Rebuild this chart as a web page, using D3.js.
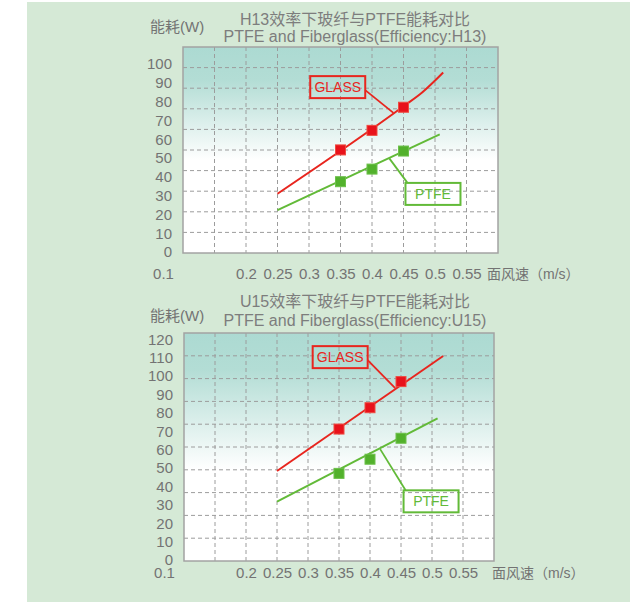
<!DOCTYPE html>
<html>
<head>
<meta charset="utf-8">
<script src="https://cdn.jsdelivr.net/npm/d3@7/dist/d3.min.js"></script>
<style>
  body { margin: 0; background: #fff; }
  svg text { font-family: "Liberation Sans", "Noto Sans CJK SC", sans-serif; }
</style>
</head>
<body>
<div id="chart"></div>
<script>
// tick labels for the wind speed axis (both panels)
var speedTicks = [0.1, 0.2, 0.25, 0.3, 0.35, 0.4, 0.45, 0.5, 0.55];
var markerSpeeds = [0.35, 0.4, 0.45];

// H13 panel
var h13Ticks = [0, 10, 20, 30, 40, 50, 60, 70, 80, 90, 100];
var h13GlassLineX = [0.25, 0.45, 0.48, 0.513];
var h13GlassLineY = [31, 77.5, 85, 95.5];
var h13PtfeLineX = [0.25, 0.5075];
var h13PtfeLineY = [22.3, 62.6];
var h13GlassMarks = [54.3, 64.7, 77];
var h13PtfeMarks = [37.4, 44.1, 53.7];

// U15 panel
var u15Ticks = [0, 10, 20, 30, 40, 50, 60, 70, 80, 90, 100, 110, 120];
var u15GlassLineX = [0.25, 0.518];
var u15GlassLineY = [48.4, 110.9];
var u15PtfeLineX = [0.25, 0.509];
var u15PtfeLineY = [31.7, 77];
var u15GlassMarks = [71.2, 82.8, 97];
var u15PtfeMarks = [47.1, 54.8, 66.2];

var width = 630, height = 602;
var red = "#e8251e", green = "#62ba38";
var textGrey = "#737373";

var svg = d3.select("#chart").append("svg")
  .attr("width", width)
  .attr("height", height);

// pale green card behind both charts
svg.append("rect")
  .attr("x", 27).attr("y", 2)
  .attr("width", width - 27).attr("height", height - 2)
  .attr("fill", "#d5e9d6");

var defs = svg.append("defs");

function zip(xs, ys) {
  return xs.map(function(x, i) { return [x, ys[i]]; });
}

function drawPanel(p) {
  var x = d3.scaleLinear().domain([0.1, 0.6]).range([p.left, p.right]);
  // the printed value labels don't sit on the grid lines, so the value scale is its own
  var y = d3.scaleLinear().domain([0, p.yMax]).range([p.yZero, p.yTopPx]);
  var grid = d3.scaleLinear().domain([0, 10]).range([p.bottom, p.top]);

  var g = svg.append("g");

  var grad = defs.append("linearGradient")
    .attr("id", p.id + "-bg")
    .attr("x1", 0).attr("y1", 0).attr("x2", 0).attr("y2", 1);
  grad.append("stop").attr("offset", 0).attr("stop-color", "#acdad2");
  grad.append("stop").attr("offset", 0.16).attr("stop-color", "#b3ddd5");
  grad.append("stop").attr("offset", p.whiteAt).attr("stop-color", "#ffffff");
  grad.append("stop").attr("offset", 1).attr("stop-color", "#ffffff");

  g.append("rect")
    .attr("x", p.left).attr("y", p.top)
    .attr("width", p.right - p.left).attr("height", p.bottom - p.top)
    .attr("fill", "url(#" + p.id + "-bg)");

  // dashed grid
  g.selectAll(".hgrid")
    .data(d3.range(1, 10))
    .enter().append("line")
    .attr("x1", p.left).attr("x2", p.right)
    .attr("y1", function(d) { return grid(d); })
    .attr("y2", function(d) { return grid(d); })
    .attr("stroke", "#9c9c9c")
    .attr("stroke-dasharray", "4,3");

  g.selectAll(".vgrid")
    .data(d3.range(3, 12).map(function(d) { return d * 0.05; }))
    .enter().append("line")
    .attr("x1", function(d) { return x(d); })
    .attr("x2", function(d) { return x(d); })
    .attr("y1", p.top).attr("y2", p.bottom)
    .attr("stroke", "#9c9c9c")
    .attr("stroke-dasharray", "4,3");

  g.append("rect")
    .attr("x", p.left).attr("y", p.top)
    .attr("width", p.right - p.left).attr("height", p.bottom - p.top)
    .attr("fill", "none")
    .attr("stroke", "#a3a3a3")
    .attr("stroke-width", 1.5);

  // axes
  var yAxisG = g.append("g")
    .attr("transform", "translate(" + p.left + ",0)")
    .call(d3.axisLeft(y).tickValues(p.ticks).tickSize(0).tickPadding(11));
  yAxisG.select(".domain").remove();
  yAxisG.selectAll("text")
    .attr("fill", textGrey)
    .style("font-size", "15px");

  var xAxisG = g.append("g")
    .attr("transform", "translate(0," + p.bottom + ")")
    .call(d3.axisBottom(x).tickValues(speedTicks).tickSize(0)
      .tickPadding(p.xPad).tickFormat(function(d) { return String(d); }));
  xAxisG.select(".domain").remove();
  xAxisG.selectAll("text")
    .attr("fill", textGrey)
    .style("font-size", "15px")
    .attr("dx", function(d) { return d === 0.1 ? -20 : 0; });

  g.append("text")
    .attr("x", p.unitX).attr("y", p.bottom + p.xPad + 11)
    .attr("fill", textGrey)
    .style("font-size", "14px")
    .text("面风速（m/s）");

  g.append("text")
    .attr("x", 150).attr("y", p.yLabelY)
    .attr("fill", textGrey)
    .style("font-size", "15px")
    .text("能耗(W)");

  g.append("text")
    .attr("x", 355).attr("y", p.title1Y)
    .attr("text-anchor", "middle")
    .attr("fill", "#7d7d7d")
    .style("font-size", "16px")
    .text(p.title);
  g.append("text")
    .attr("x", 355).attr("y", p.title2Y)
    .attr("text-anchor", "middle")
    .attr("fill", "#7d7d7d")
    .style("font-size", "16px")
    .text(p.subtitle);

  // series lines
  var line = d3.line()
    .x(function(d) { return x(d[0]); })
    .y(function(d) { return y(d[1]); })
    .curve(d3.curveMonotoneX);

  g.append("path")
    .attr("d", line(p.glassLine))
    .attr("fill", "none")
    .attr("stroke", red)
    .attr("stroke-width", 2);
  g.append("path")
    .attr("d", line(p.ptfeLine))
    .attr("fill", "none")
    .attr("stroke", green)
    .attr("stroke-width", 2);

  // annotation boxes with leader lines
  [[p.glassNote, red], [p.ptfeNote, green]].forEach(function(pair) {
    var n = pair[0], c = pair[1];
    var cx = x(n.x), cy = y(n.y), w = 55, h = 22;
    var sx, sy;
    if (n.from === "right") { sx = cx + w / 2; sy = cy + 3; }
    else { sx = cx - w / 2 + 2; sy = cy - h / 2; }
    g.append("line")
      .attr("x1", sx).attr("y1", sy)
      .attr("x2", x(n.tx)).attr("y2", y(n.ty))
      .attr("stroke", c)
      .attr("stroke-width", 1.8);
    g.append("rect")
      .attr("x", cx - w / 2).attr("y", cy - h / 2)
      .attr("width", w).attr("height", h)
      .attr("fill", "none")
      .attr("stroke", c)
      .attr("stroke-width", 2);
    g.append("text")
      .attr("x", cx).attr("y", cy + 5)
      .attr("text-anchor", "middle")
      .attr("fill", c)
      .style("font-size", "14px")
      .text(n.text);
  });

  // square markers
  g.selectAll(".glassMark")
    .data(zip(markerSpeeds, p.glassMarks))
    .enter().append("rect")
    .attr("x", function(d) { return x(d[0]) - 5; })
    .attr("y", function(d) { return y(d[1]) - 5; })
    .attr("width", 10).attr("height", 10)
    .attr("fill", "#e8121b")
    .attr("stroke", "#ef4a40")
    .attr("stroke-width", 1);

  g.selectAll(".ptfeMark")
    .data(zip(markerSpeeds, p.ptfeMarks))
    .enter().append("rect")
    .attr("x", function(d) { return x(d[0]) - 5; })
    .attr("y", function(d) { return y(d[1]) - 5; })
    .attr("width", 10).attr("height", 10)
    .attr("fill", "#52b12c")
    .attr("stroke", "#6cc04a")
    .attr("stroke-width", 1);
}

drawPanel({
  id: "h13",
  left: 183, right: 498, top: 47, bottom: 253,
  yMax: 100, yZero: 252, yTopPx: 64, whiteAt: 0.55,
  ticks: h13Ticks, xPad: 15, unitX: 487,
  yLabelY: 32, title1Y: 25, title2Y: 41.5,
  title: "H13效率下玻纤与PTFE能耗对比",
  subtitle: "PTFE and Fiberglass(Efficiency:H13)",
  glassLine: zip(h13GlassLineX, h13GlassLineY),
  ptfeLine: zip(h13PtfeLineX, h13PtfeLineY),
  glassMarks: h13GlassMarks,
  ptfeMarks: h13PtfeMarks,
  glassNote: { text: "GLASS", x: 0.3456, y: 87.7, tx: 0.434, ty: 74, from: "right" },
  ptfeNote: { text: "PTFE", x: 0.4968, y: 30.9, tx: 0.4275, ty: 49.8, from: "topleft" }
});

drawPanel({
  id: "u15",
  left: 184, right: 494, top: 333, bottom: 561,
  yMax: 120, yZero: 560, yTopPx: 339.3, whiteAt: 0.6,
  ticks: u15Ticks, xPad: 6, unitX: 492,
  yLabelY: 320.5, title1Y: 306.5, title2Y: 325.5,
  title: "U15效率下玻纤与PTFE能耗对比",
  subtitle: "PTFE and Fiberglass(Efficiency:U15)",
  glassLine: zip(u15GlassLineX, u15GlassLineY),
  ptfeLine: zip(u15PtfeLineX, u15PtfeLineY),
  glassMarks: u15GlassMarks,
  ptfeMarks: u15PtfeMarks,
  glassNote: { text: "GLASS", x: 0.3519, y: 110.3, tx: 0.4406, ty: 93.5, from: "right" },
  ptfeNote: { text: "PTFE", x: 0.4985, y: 31.9, tx: 0.4164, ty: 60.3, from: "topleft" }
});
</script>
</body>
</html>
